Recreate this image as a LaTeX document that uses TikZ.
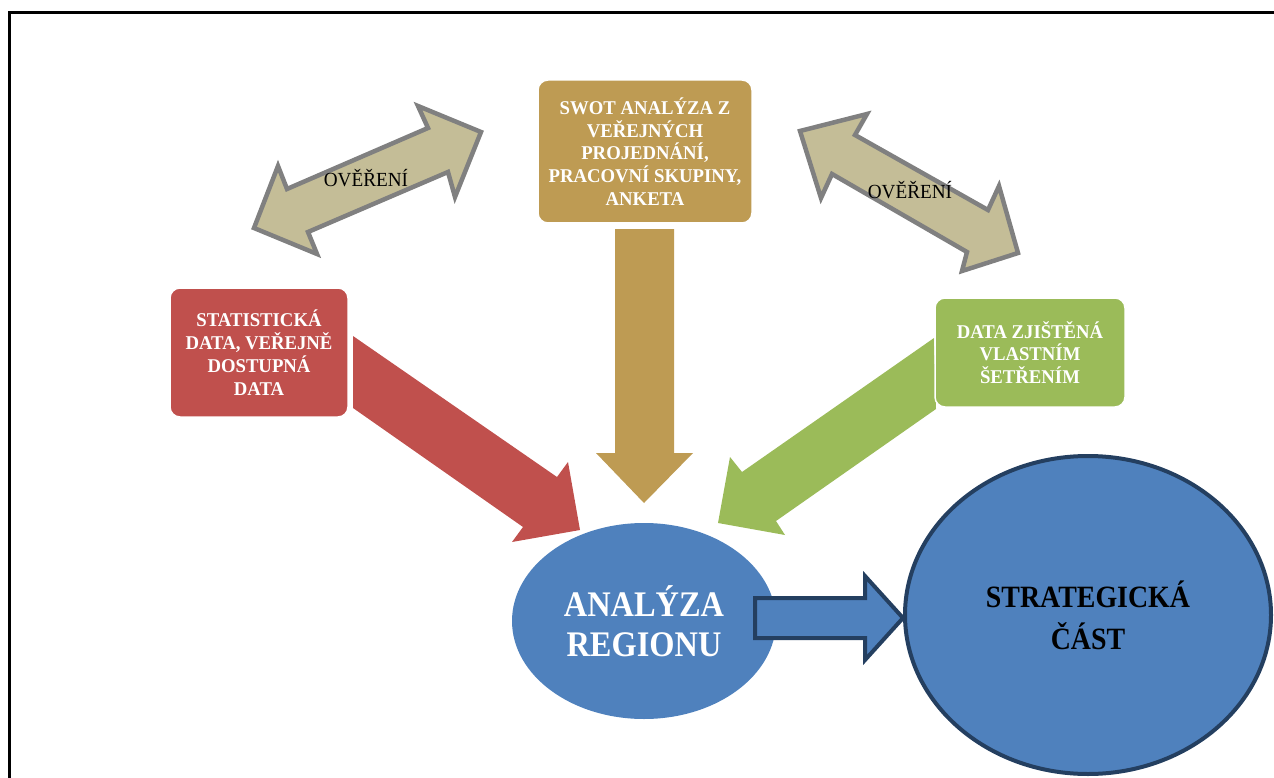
\documentclass[tikz,border=0pt]{standalone}
\usepackage{fontspec}
\setmainfont{Liberation Serif}
\newfontfamily\bigbf[FakeStretch=0.9]{Liberation Serif}
\newfontfamily\boxbf[FakeStretch=0.96]{Liberation Serif}
\usetikzlibrary{shapes.geometric}
\definecolor{goldc}{RGB}{190,155,83}
\definecolor{redc}{RGB}{192,80,77}
\definecolor{greenc}{RGB}{155,187,89}
\definecolor{bluec}{RGB}{79,129,189}
\definecolor{darkbluec}{RGB}{36,63,96}
\definecolor{tanc}{RGB}{196,189,151}
\definecolor{grayc}{RGB}{128,128,128}
\tikzset{
  srcbox/.style={rounded corners=10pt, draw=white, line width=1.5pt, text=white,
    align=center, inner sep=0pt, font=\fontsize{19.5}{22.8}\selectfont\boxbf\bfseries},
  dblarrow/.style={fill=tanc, draw=grayc, line width=4.5pt, line join=miter},
  verify/.style={font=\fontsize{20}{22}\selectfont\boxbf, text=black, inner sep=0pt},
  bigell/.style={ellipse, inner sep=0pt, align=center,
    font=\fontsize{36}{40}\selectfont\bigbf\bfseries}
}
\begin{document}
\begin{tikzpicture}[x=1pt,y=-1pt]
\useasboundingbox (0,0) rectangle (1274,778);
% frame
\draw[line width=2.2pt] (9.5,778) -- (9.5,12.5) -- (1274,12.5);

% double arrows (verification)
\draw[dblarrow] (481,132) -- (418,106) -- (428,128) -- (287,189) -- (278,166) -- (254,228)
  -- (317,254) -- (308,232) -- (448,172) -- (455,197) -- cycle;
\node[verify] (v1) at (366,178) {OVĚŘENÍ};
\draw[dblarrow] (800,131) -- (867,114) -- (855,135) -- (988,210) -- (999,186) -- (1018,253)
  -- (962,271) -- (967,252) -- (832,174) -- (821,198) -- cycle;
\node[verify] (v2) at (910,190) {OVĚŘENÍ};

% block arrows into the analysis
\fill[redc] (353,336) -- (557,477) -- (568,462) -- (580,530) -- (512,542) -- (523,527) -- (353,408) -- cycle;
\fill[goldc] (615,229) -- (674,229) -- (674,453) -- (693,453) -- (644,503) -- (596,453) -- (615,453) -- cycle;
\fill[greenc] (934,338) -- (742,472) -- (730,457) -- (718,523) -- (785,535) -- (776,521) -- (936,409) -- cycle;

% source boxes
\node[srcbox, fill=goldc, minimum width=214pt, minimum height=143pt] (swot) at (645,151.5)
  {SWOT ANALÝZA Z\\VEŘEJNÝCH\\PROJEDNÁNÍ,\\PRACOVNÍ SKUPINY,\\ANKETA};
\node[srcbox, fill=redc, minimum width=178pt, minimum height=129pt] (stat) at (259,352.5)
  {STATISTICKÁ\\DATA, VEŘEJNĚ\\DOSTUPNÁ\\DATA};
\node[srcbox, fill=greenc, minimum width=190pt, minimum height=109pt] (own) at (1030,352.5)
  {DATA ZJIŠTĚNÁ\\VLASTNÍM\\ŠETŘENÍM};

% analysis ellipse
\node[bigell, fill=bluec, minimum width=264pt, minimum height=196pt, text=white] (anal) at (644,621)
  {ANALÝZA\\REGIONU};

% arrow to strategy
\draw[fill=bluec, draw=darkbluec, line width=4pt, line join=miter]
  (755,598) -- (865,598) -- (865,576) -- (903,618) -- (865,660) -- (865,638) -- (755,638) -- cycle;

% strategic ellipse
\node[bigell, fill=bluec, draw=darkbluec, line width=4pt, minimum width=366pt, minimum height=318pt,
  text=black, font=\fontsize{31}{42}\selectfont\bigbf\bfseries] (strat) at (1088,615)
  {STRATEGICKÁ\\ČÁST};
\end{tikzpicture}
\end{document}
